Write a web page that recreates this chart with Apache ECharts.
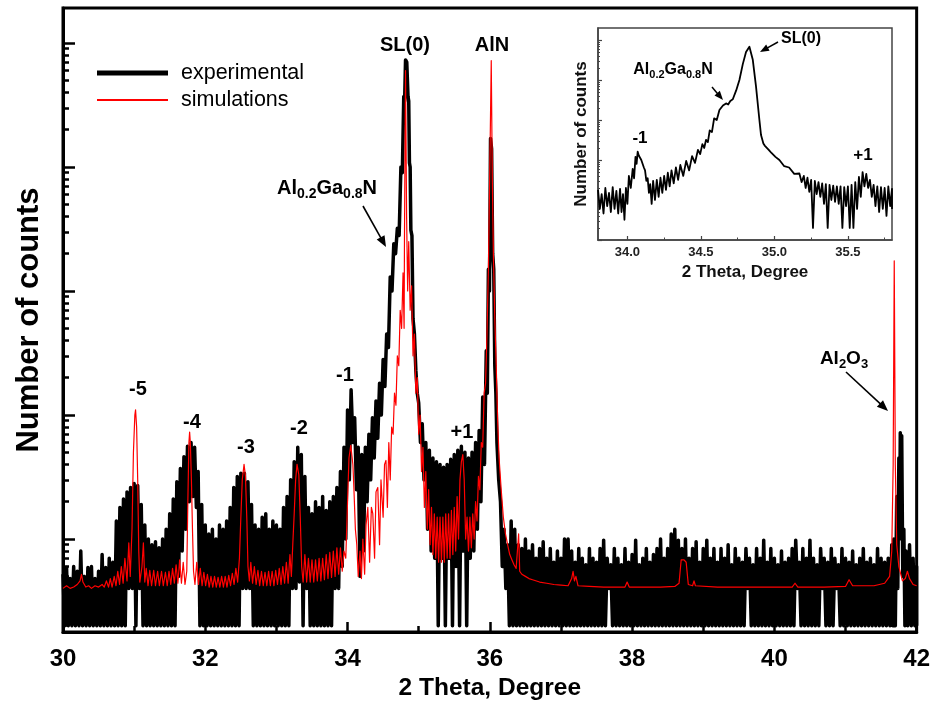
<!DOCTYPE html>
<html><head><meta charset="utf-8">
<script src="https://cdn.jsdelivr.net/npm/echarts@6/dist/echarts.min.js"></script>
<style>html,body{margin:0;padding:0;background:#fff}#c{width:933px;height:711px}</style>
</head><body><div id="c"></div>
<script>
// ---------- main plot: experimental (min/max envelope of the noisy scan) ----------
const expX = [
30.00,30.05,30.10,30.15,30.20,30.25,30.30,30.35,30.40,30.45,
30.50,30.55,30.60,30.65,30.70,30.75,30.80,30.85,30.90,30.95,
31.00,31.05,31.10,31.15,31.20,31.25,31.30,31.35,31.40,31.45,
31.50,31.55,31.60,31.65,31.70,31.75,31.80,31.85,31.90,31.95,
32.00,32.05,32.10,32.15,32.20,32.25,32.30,32.35,32.40,32.45,
32.50,32.55,32.60,32.65,32.70,32.75,32.80,32.85,32.90,32.95,
33.00,33.05,33.10,33.15,33.20,33.25,33.30,33.35,33.40,33.45,
33.50,33.55,33.60,33.65,33.70,33.75,33.80,33.85,33.90,33.95,
34.00,34.05,34.10,34.15,34.20,34.25,34.30,34.35,34.40,34.45,
34.50,34.55,34.60,34.65,34.70,34.75,34.79,34.815,34.85,34.87,
34.89,34.92,34.96,35.00,35.05,35.10,35.15,35.20,35.25,35.30,
35.35,35.40,35.45,35.50,35.55,35.60,35.65,35.70,35.75,35.80,
35.85,35.90,35.95,35.98,36.01,36.04,36.07,36.10,36.15,36.20,
36.25,36.30,36.35,36.40,36.45,36.50,36.55,36.60,36.65,36.70,
36.75,36.80,36.85,36.90,36.95,37.00,37.05,37.10,37.15,37.20,
37.25,37.30,37.35,37.40,37.45,37.50,37.55,37.60,37.65,37.70,
37.75,37.80,37.85,37.90,37.95,38.00,38.05,38.10,38.15,38.20,
38.25,38.30,38.35,38.40,38.45,38.50,38.55,38.60,38.65,38.70,
38.75,38.80,38.85,38.90,38.95,39.00,39.05,39.10,39.15,39.20,
39.25,39.30,39.35,39.40,39.45,39.50,39.55,39.60,39.65,39.70,
39.75,39.80,39.85,39.90,39.95,40.00,40.05,40.10,40.15,40.20,
40.25,40.30,40.35,40.40,40.45,40.50,40.55,40.60,40.65,40.70,
40.75,40.80,40.85,40.90,40.95,41.00,41.05,41.10,41.15,41.20,
41.25,41.30,41.35,41.40,41.45,41.50,41.55,41.60,41.65,41.68,
41.72,41.75,41.77,41.79,41.82,41.85,41.90,41.95,42.00];
const expHi = [
5.2,5.9,4.8,6,5.5,8,5,5.9,6,4.8,
5.5,7.5,5.9,7,6.5,14,18,21,24,26,
28,27,19,13,10,9,9.5,8.5,10,12,
16,21,29,37,46,56,60,55,35,19,
13,11,12,10,13,12,14,18,26,32,
34,34,29,19,13,12,15,16,12,14,
13,12,18,22,30,42,55,48,32,18,
16,20,18,22,17,20,22,26,35,55,
110,160,95,55,48,55,70,95,130,180,
280,450,1300,2400,3200,10000,37000,73000,37000,10800,
3100,600,230,125,85,60,52,45,42,40,
38,40,44,48,52,56,50,45,50,60,
75,140,330,1500,17000,2000,250,60,20,12,
9,14,12,9,8.4,10,8,9,7,8.4,
9.5,7,8.4,6.5,8,7,10,10,8,6.5,
8.4,7,6.2,8.4,7,6.5,8.4,9.8,7,6.2,
8.4,7,6.2,8.4,6.5,7.5,9.8,6.2,7,8.4,
6.5,7.5,8.4,10,7,8.4,11,12,9.8,8.4,
10,7,8.4,9.5,6.5,8.4,9.8,7,8.4,6.5,
8.4,7,9,6.2,8.4,7,6.5,8.4,7,6.2,
8.4,7,9.8,6.5,8.4,7,6.2,8,6.5,7,
8.4,9.8,6.5,8.4,7,9.8,7,6.2,8.4,7,
6.5,8.4,7,6.2,8.4,7,6.5,8,6.2,7,
8.4,6.5,7,6.2,8.4,7,6.5,7,9,10,
22,45,72,68,12,8,9,7,6];
const expLo = [
2,2,2,2,2,2,2,2,2,2,
2,2,2,2,2,2,2,2,4,4,
2,4,2,2,2,2,2,2,2,2,
2,2,5,8,12,20,22,18,2,2,
2,2,2,2,2,2,2,2,2,2,
4,4,4,2,2,2,2,2,2,2,
2,2,2,2,4,4,4.5,2,4,2,
2,2,2,2,2,2,4,4,6,10,
30,60,25,5,8,20,30,45,65,100,
170,350,1000,2000,2800,9000,34000,70000,34000,10000,
2800,450,150,60,30,12,8,7,2,7,
2,7,2,6,2,8,2,7,8,12,
20,40,150,1000,14000,1500,150,30,6,4,
2,2,2,2,2,2,2,2,2,2,
2,2,2,2,2,2,2,2,2,2,
2,2,2,2,2,2,2,2,4,2,
2,2,2,2,2,2,2,2,2,2,
2,2,2,2,2,2,2,2,2,2,
2,2,2,2,2,2,2,2,2,2,
2,2,2,2,2,2,2,4,2,2,
2,2,2,2,2,2,2,2,2,2,
2,4,2,2,2,2,2,2,4,2,
2,2,4,2,2,2,2,2,2,2,
2,2,2,2,2,2,2,2,2,2,
4,10,30,5,2,2,2,2,2];

// ---------- main plot: simulation ----------
const simX = [
30.00,30.05,30.10,30.15,30.20,30.24,30.26,30.28,30.32,30.36,
30.40,30.45,30.50,30.55,30.58,30.61,30.64,30.665,30.69,30.72,
30.745,30.77,30.795,30.82,30.845,30.87,30.90,30.925,30.945,30.97,
30.99,31.01,31.02,31.035,31.05,31.065,31.08,31.11,31.13,31.15,
31.17,31.195,31.22,31.245,31.275,31.30,31.33,31.355,31.385,31.41,
31.44,31.465,31.49,31.515,31.54,31.565,31.59,31.615,31.64,31.665,
31.69,31.715,31.74,31.755,31.77,31.78,31.79,31.805,31.82,31.835,
31.855,31.88,31.905,31.93,31.955,31.98,32.005,32.03,32.055,32.08,
32.105,32.13,32.155,32.18,32.205,32.23,32.255,32.28,32.305,32.33,
32.355,32.38,32.405,32.43,32.455,32.48,32.50,32.52,32.545,32.565,
32.585,32.60,32.62,32.64,32.665,32.69,32.715,32.74,32.765,32.79,
32.815,32.84,32.865,32.89,32.915,32.94,32.965,32.99,33.015,33.04,
33.065,33.09,33.115,33.14,33.165,33.19,33.21,33.23,33.25,33.27,
33.29,33.30,33.315,33.335,33.355,33.375,33.40,33.425,33.45,33.475,
33.50,33.525,33.55,33.575,33.60,33.625,33.65,33.675,33.70,33.725,
33.75,33.775,33.80,33.825,33.85,33.875,33.90,33.925,33.95,33.975,
34.00,34.02,34.045,34.06,34.075,34.09,34.11,34.13,34.15,34.175,
34.195,34.215,34.24,34.26,34.285,34.31,34.335,34.355,34.38,34.40,
34.425,34.45,34.47,34.50,34.52,34.54,34.56,34.58,34.60,34.62,
34.64,34.66,34.68,34.70,34.72,34.74,34.76,34.78,34.795,34.80,
34.815,34.83,34.845,34.86,34.88,34.90,34.92,34.94,34.96,34.98,
35.00,35.02,35.04,35.06,35.08,35.10,35.12,35.14,35.16,35.18,
35.20,35.22,35.24,35.26,35.28,35.30,35.32,35.34,35.36,35.38,
35.40,35.42,35.44,35.46,35.48,35.50,35.52,35.54,35.56,35.58,
35.60,35.62,35.64,35.66,35.68,35.70,35.72,35.74,35.76,35.78,
35.80,35.82,35.84,35.86,35.88,35.90,35.92,35.94,35.96,35.98,
36.00,36.02,36.035,36.05,36.07,36.09,36.11,36.13,36.16,36.19,
36.22,36.25,36.28,36.31,36.34,36.37,36.39,36.405,36.42,36.45,
36.50,36.55,36.60,36.70,36.80,36.90,37.00,37.10,37.15,37.17,
37.19,37.21,37.24,37.40,37.60,37.90,37.93,37.96,38.20,38.40,
38.60,38.66,38.69,38.73,38.76,38.79,38.85,38.87,38.89,39.20,
39.60,40.00,40.25,40.29,40.33,40.70,41.00,41.05,41.10,41.40,
41.55,41.62,41.65,41.67,41.685,41.70,41.72,41.75,41.80,41.84,
41.87,41.90,41.95,42.00];
const simY = [
4.0,4.2,4.0,4.1,4.3,4.6,5.2,4.5,4.1,4.2,
4.0,4.2,4.1,4.3,4.1,4.6,4.1,4.8,4.1,5.0,
4.2,5.5,4.3,6.0,4.4,7.0,4.6,9.3,5.0,12,
50,100,110,80,30,8,4.5,6,9.3,4.5,
5.8,4.2,5.6,4.2,5.6,4.2,5.5,4.2,5.5,4.2,
5.4,4.2,5.5,4.3,5.8,4.4,6.2,4.4,6.8,4.4,
6.5,4.3,5.5,20,60,73,60,30,12,5.5,
4.3,6.5,4.3,5.8,4.2,5.4,4.2,5.2,4.1,5.0,
4.1,5.0,4.1,4.9,4.1,5.0,4.1,5.0,4.1,5.1,
4.2,5.3,4.3,5.8,4.5,7,15,30,40,32,
14,6,4.6,6.5,4.4,6.0,4.3,5.6,4.2,5.5,
4.2,5.4,4.2,5.5,4.2,5.5,4.2,5.6,4.3,5.8,
4.3,6.0,4.4,6.5,4.4,7.5,5,9,16,30,
40,40,33,15,6,4.5,7.5,4.5,7.0,4.5,
6.8,4.5,6.8,4.6,7.0,4.6,7.0,4.7,7.5,4.8,
7.8,4.9,8,5.0,8.5,5.2,8.5,5.5,8,7,
20,45,57,55,40,25,12,9,5,8,
4.8,10,5.2,13,18,6.5,18,16,7,24,
26,9,30,15,40,43,18,60,30,80,
70,150,120,300,250,700,500,1400,500,2500,
60000,4000,1000,2500,700,1100,300,450,150,200,
70,100,35,55,18,35,12,25,9,18,
7.5,16,7,15,6.5,15,6.5,15,6.5,16,
7,16,7,17,7.5,18,8,22,10,30,
42,48,30,10,15,8,15,8.5,16,10,
20,14,32,25,60,55,150,180,450,1500,
10000,72000,8000,2000,600,250,90,45,25,15,
11,9,7.5,6.8,6.2,5.8,5.6,11,5.5,5.2,
5.0,4.8,4.7,4.5,4.4,4.3,4.25,4.2,4.8,5.5,
4.6,5.0,4.2,4.15,4.1,4.1,4.5,4.1,4.1,4.1,
4.15,4.4,6.8,6.8,6.5,4.3,4.2,4.6,4.2,4.1,
4.1,4.1,4.1,4.4,4.1,4.1,4.15,4.7,4.2,4.2,
4.4,5,8,40,1750,40,9,6,4.6,4.8,
5.5,4.8,4.3,4.2];

// ---------- inset: experimental scan 33.8 - 35.8 ----------
const insX = [
33.80,33.825,33.85,33.875,33.90,33.925,33.95,33.97,33.99,34.01,
34.036,34.055,34.07,34.085,34.104,34.12,34.138,34.155,34.175,34.20,
34.225,34.25,34.275,34.30,34.33,34.36,34.40,34.44,34.48,34.51,
34.535,34.56,34.59,34.626,34.65,34.671,34.70,34.717,34.74,34.762,
34.785,34.807,34.83,34.853,34.875,34.898,34.909,34.925,34.943,34.98,
35.034,35.10,35.17,35.20,35.225,35.25,35.275,35.30,35.325,35.35,
35.375,35.40,35.425,35.45,35.475,35.50,35.525,35.55,35.575,35.60,
35.625,35.65,35.675,35.70,35.725,35.75,35.775,35.80];
const insHi = [
18,14,20,15,21,17,19,14,20,40,
60,120,162,140,100,55,35,25,30,32,
36,40,48,55,65,75,95,125,180,250,
320,550,1100,1780,2300,2600,3000,3300,5500,10000,
25000,50000,68000,32000,6800,1000,420,260,215,150,
100,65,46,40,36,32,30,28,26,25,
24,23,22,22,21,22,24,28,38,50,
45,32,24,22,21,20,22,19];
const insLo = [
6,4.6,7,5,6,4.6,5,3.2,8,20,
35,80,130,100,65,30,15,8,10,12,
15,18,22,26,32,40,55,85,140,200,
280,500,1000,1650,2150,2450,2850,3100,5200,9500,
24000,48000,66000,30000,6400,900,380,230,180,120,
70,45,28,20,16,2,14,12,8,2,
10,9,8,2,7,2,2,6,12,22,
20,12,7,5,6,4,7,6];

// ---------- axes / ticks ----------
const mainXMin = 30, mainXMax = 42, mainXStep = 2;
const mainYMin = 1.78, mainYMax = 191500;
const mainYMajor = [10, 100, 1000, 10000, 100000];
const insetXMin = 33.8, insetXMax = 35.8;
const insetXTicks = [34.0, 34.5, 35.0, 35.5];
const insetXMinor = [34.25, 34.75, 35.25, 35.75];
const insetYMin = 1, insetYMax = 200000;
const insetYMajor = [1, 10, 100, 1000, 10000, 100000];

function minorsOf(decades, maxV){ const r=[]; decades.forEach(d=>{for(let k=2;k<=9;k++){const v=k*d; if(v<maxV) r.push(v);}}); return r; }
const mainYMinor = minorsOf([1,10,100,1000,10000,100000], mainYMax);
const insetYMinor = minorsOf([1,10,100,1000,10000,100000], insetYMax);
const lg = v => Math.log10(v);

// min/max envelope -> sawtooth polyline: max at each sample, min between samples
function envelope(xs, hi, lo){
  const out=[];
  for(let i=0;i<xs.length;i++){
    out.push([xs[i],hi[i]]);
    const xm = i<xs.length-1 ? (xs[i]+xs[i+1])/2 : xs[i];
    out.push([xm,lo[i]]);
  }
  return out;
}

const F = '"Liberation Sans", Arial, Helvetica, sans-serif';
const FN = '"Liberation Sans Narrow", "Arial Narrow", "Liberation Sans", sans-serif';

function arrow(x1,y1,x2,y2,w,hl,hw){
  const dx=x2-x1, dy=y2-y1, L=Math.hypot(dx,dy), ux=dx/L, uy=dy/L;
  const bx=x2-ux*hl, by=y2-uy*hl, px=-uy, py=ux;
  return [
    {type:'line', z:100, shape:{x1:x1,y1:y1,x2:bx+ux*1,y2:by+uy*1}, style:{stroke:'#000', lineWidth:w}},
    {type:'polygon', z:100, shape:{points:[[x2,y2],[bx+px*hw/2,by+py*hw/2],[bx-px*hw/2,by-py*hw/2]]}, style:{fill:'#000'}}
  ];
}
function txt(x,y,t,size){
  return {type:'text', z:100, x:x, y:y, style:{text:t, fill:'#000', fontSize:size, fontWeight:'bold', fontFamily:F, align:'center', verticalAlign:'middle', textAlign:'center', textVerticalAlign:'middle'}};
}
function richTxt(x,y,t,big,small,drop){
  return {type:'text', z:100, x:x, y:y, style:{text:t, fill:'#000', align:'center', verticalAlign:'middle', textAlign:'center', textVerticalAlign:'middle',
    rich:{
      a:{fontSize:big, fontWeight:'bold', fontFamily:F, fill:'#000', lineHeight:big+3, verticalAlign:'top'},
      s:{fontSize:small, fontWeight:'bold', fontFamily:F, fill:'#000', lineHeight:small, padding:[drop,0,0,0], verticalAlign:'bottom'}
    }}};
}
// tick-only axis in log10 space (ticks placed through the library's value scale)
function tickAxis(grid, lo, hi, vals, len, color, w){
  return {gridIndex:grid, type:'value', position:'left', min:lg(lo), max:lg(hi),
    axisLine:{show:false}, axisLabel:{show:false}, splitLine:{show:false},
    axisTick:{show:true, inside:true, length:len, customValues:vals.map(lg), lineStyle:{color:color, width:w}}};
}

const chart = echarts.init(document.getElementById('c'), null, {renderer:'canvas'});
const tickStyle = {color:'#000', width:2.5};
const legendText = {fontFamily:F, fontSize:21.5, lineHeight:24, color:'#000', padding:[0,0,0,8]};
const option = {
  animation:false,
  backgroundColor:'#fff',
  grid:[
    {left:63, top:8, width:854, height:624, show:true, borderColor:'#000', borderWidth:3, backgroundColor:'transparent'},
    {left:598, top:28, width:294, height:212, show:true, borderColor:'#444', borderWidth:1.5, backgroundColor:'transparent'}
  ],
  xAxis:[
    {gridIndex:0, type:'value', position:'bottom', min:mainXMin, max:mainXMax, interval:mainXStep,
     axisLine:{lineStyle:{color:'#000', width:3}},
     axisTick:{inside:true, length:10, lineStyle:tickStyle},
     minorTick:{show:true, splitNumber:2, length:6, lineStyle:tickStyle},
     splitLine:{show:false}, minorSplitLine:{show:false},
     axisLabel:{margin:15, fontFamily:FN, fontWeight:'bold', fontSize:24, color:'#000'},
     name:'2 Theta, Degree', nameLocation:'middle', nameGap:44,
     nameTextStyle:{fontFamily:FN, fontWeight:'bold', fontSize:24.5, color:'#000'}},
    {gridIndex:1, type:'value', position:'bottom', min:insetXMin, max:insetXMax,
     axisLine:{lineStyle:{color:'#444', width:1.5}},
     axisTick:{inside:true, length:4, customValues:insetXTicks, lineStyle:{color:'#444', width:1.2}},
     axisLabel:{customValues:insetXTicks, formatter:v=>Number(v).toFixed(1), margin:6, fontFamily:F, fontWeight:'bold', fontSize:13, color:'#222'},
     splitLine:{show:false},
     name:'2 Theta, Degree', nameLocation:'middle', nameGap:24,
     nameTextStyle:{fontFamily:F, fontWeight:'bold', fontSize:17, color:'#111'}},
    {gridIndex:1, type:'value', position:'bottom', min:insetXMin, max:insetXMax,
     axisLine:{show:false},
     axisTick:{inside:true, length:2.5, customValues:insetXMinor, lineStyle:{color:'#444', width:1}},
     axisLabel:{show:false}, splitLine:{show:false}}
  ],
  yAxis:[
    {gridIndex:0, type:'log', logBase:10, position:'left', min:mainYMin, max:mainYMax,
     axisLine:{lineStyle:{color:'#000', width:3}},
     axisTick:{show:false}, axisLabel:{show:false}, splitLine:{show:false},
     name:'Number of counts', nameLocation:'middle', nameGap:18,
     nameTextStyle:{fontFamily:F, fontWeight:'bold', fontSize:31, color:'#000'}},
    tickAxis(0, mainYMin, mainYMax, mainYMajor, 12, '#000', 2.5),
    tickAxis(0, mainYMin, mainYMax, mainYMinor, 6, '#000', 2.5),
    {gridIndex:1, type:'log', logBase:10, position:'left', min:insetYMin, max:insetYMax,
     axisLine:{lineStyle:{color:'#444', width:1.5}},
     axisTick:{show:false}, axisLabel:{show:false}, splitLine:{show:false},
     name:'Number of counts', nameLocation:'middle', nameGap:8,
     nameTextStyle:{fontFamily:F, fontWeight:'bold', fontSize:17, color:'#111'}},
    tickAxis(1, insetYMin, insetYMax, insetYMajor, 4, '#444', 1.2),
    tickAxis(1, insetYMin, insetYMax, insetYMinor, 2, '#444', 1)
  ],
  legend:[
    {data:['experimental'], left:92, top:56, orient:'vertical', icon:'rect', itemWidth:71, itemHeight:5,
     textStyle:legendText, selectedMode:false},
    {data:['simulations'], left:92, top:83, orient:'vertical', icon:'rect', itemWidth:71, itemHeight:2,
     textStyle:legendText, selectedMode:false}
  ],
  series:[
    {name:'experimental', type:'line', xAxisIndex:0, yAxisIndex:0, data:envelope(expX,expHi,expLo),
     symbol:'none', showSymbol:false, silent:true, z:2,
     lineStyle:{color:'#000', width:3.5, join:'round'}, itemStyle:{color:'#000'}},
    {name:'simulations', type:'line', xAxisIndex:0, yAxisIndex:0, data:simX.map((x,i)=>[x,simY[i]]),
     symbol:'none', showSymbol:false, silent:true, z:3,
     lineStyle:{color:'#ff0000', width:1.2, join:'round'}, itemStyle:{color:'#ff0000'}},
    {name:'inset', type:'line', xAxisIndex:1, yAxisIndex:3, data:envelope(insX,insHi,insLo),
     symbol:'none', showSymbol:false, silent:true, z:3,
     lineStyle:{color:'#000', width:1.8, join:'round'}, itemStyle:{color:'#000'}}
  ],
  graphic:[
    txt(405,45,'SL(0)',20),
    txt(492,45,'AlN',20),
    richTxt(327,190,'{a|Al}{s|0.2}{a|Ga}{s|0.8}{a|N}',20,14,10),
    ...arrow(363,206,386,247,1.6,11,9),
    txt(138,389,'-5',20),
    txt(192,422,'-4',20),
    txt(246,447,'-3',20),
    txt(299,428,'-2',20),
    txt(345,375,'-1',20),
    txt(462,432,'+1',20),
    richTxt(844,360,'{a|Al}{s|2}{a|O}{s|3}',19,13,10),
    ...arrow(846,372,888,411,1.6,11,9),
    // inset annotations
    txt(801,39,'SL(0)',16),
    ...arrow(778,42,760,52,1.5,9,7),
    richTxt(673,71,'{a|Al}{s|0.2}{a|Ga}{s|0.8}{a|N}',16,11,8),
    ...arrow(712,87,723,100,1.5,9,7),
    txt(640,138,'-1',17),
    txt(863,155,'+1',17)
  ]
};
chart.setOption(option);
</script>
</body></html>
